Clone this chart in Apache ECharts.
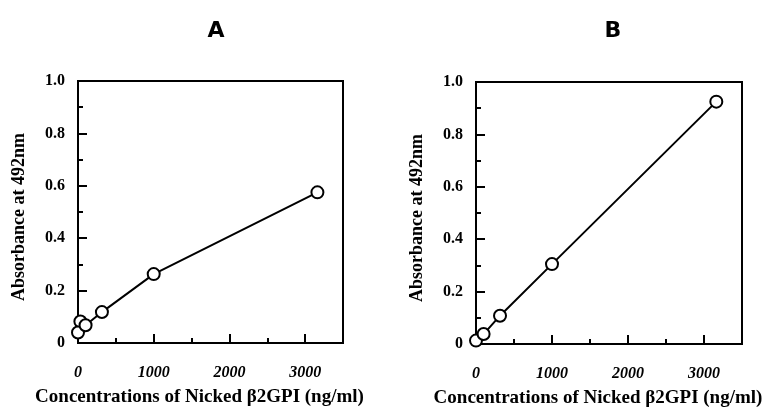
<!DOCTYPE html>
<html>
<head>
<meta charset="utf-8">
<script src="https://cdn.jsdelivr.net/npm/echarts@6/dist/echarts.min.js"></script>
<style>html,body{margin:0;padding:0;background:#fff;}#c{width:763px;height:409px;}</style>
</head>
<body>
<div id="c"></div>
<script>
// ---- data ----
const panelTitles = ['A', 'B'];
const concA = [0, 31.6, 100, 316, 1000, 3162];
const absA  = [0.04, 0.082, 0.068, 0.118, 0.263, 0.575];
const concB = [0, 100, 316, 1000, 3162];
const absB  = [0.013, 0.038, 0.108, 0.305, 0.925];
const xTickLabels = ['0', '1000', '2000', '3000'];
const yTickLabels = ['0', '0.2', '0.4', '0.6', '0.8', '1.0'];
const xName = 'Concentrations of Nicked \u03b22GPI (ng/ml)';
const yName = 'Absorbance at 492nm';

const chart = echarts.init(document.getElementById('c'));
const serif = 'Liberation Serif';
const grids = [
  {left: 78, top: 81, width: 265, height: 262},
  {left: 476, top: 82, width: 266, height: 262}
];
const xLabelSet = xTickLabels.map(Number);
const yLabelSet = yTickLabels.map(Number);

const xAxes = [], yAxes = [], series = [], titles = [];
grids.forEach((g, i) => {
  // minor ticks axis (with labels)
  xAxes.push({
    type: 'value', gridIndex: i, min: 0, max: 3500, interval: 500, position: 'bottom',
    axisLine: {show: true, lineStyle: {color: '#000', width: 2}},
    axisTick: {show: true, inside: true, length: 5, lineStyle: {color: '#000', width: 2}},
    splitLine: {show: false},
    axisLabel: {
      margin: 22, color: '#000', fontFamily: serif, fontWeight: 'bold', fontStyle: 'italic', fontSize: 16,
      formatter: v => { const k = xLabelSet.indexOf(v); return k >= 0 ? xTickLabels[k] : ''; }
    },
    name: xName, nameLocation: 'middle', nameGap: 45,
    nameTextStyle: {color: '#000', fontFamily: serif, fontWeight: 'bold', fontSize: 19, padding: [0, 22, 0, 0]}
  });
  // major ticks axis
  xAxes.push({
    type: 'value', gridIndex: i, min: 0, max: 3500, interval: 1000, position: 'bottom',
    axisLine: {show: false},
    axisTick: {show: true, inside: true, length: 9, lineStyle: {color: '#000', width: 2}},
    splitLine: {show: false}, axisLabel: {show: false}
  });
  yAxes.push({
    type: 'value', gridIndex: i, min: 0, max: 1, interval: 0.1, position: 'left',
    axisLine: {show: true, lineStyle: {color: '#000', width: 2}},
    axisTick: {show: true, inside: true, length: 5, lineStyle: {color: '#000', width: 2}},
    splitLine: {show: false},
    axisLabel: {
      margin: 13, color: '#000', fontFamily: serif, fontWeight: 'bold', fontSize: 16,
      formatter: v => { const k = yLabelSet.findIndex(t => Math.abs(t - v) < 1e-6); return k >= 0 ? yTickLabels[k] : ''; }
    },
    name: yName, nameLocation: 'middle', nameGap: 50,
    nameTextStyle: {color: '#000', fontFamily: serif, fontWeight: 'bold', fontSize: 18, padding: [0, 10, 0, 0]}
  });
  yAxes.push({
    type: 'value', gridIndex: i, min: 0, max: 1, interval: 0.2, position: 'left',
    axisLine: {show: false},
    axisTick: {show: true, inside: true, length: 9, lineStyle: {color: '#000', width: 2}},
    splitLine: {show: false}, axisLabel: {show: false}
  });
  titles.push({
    text: panelTitles[i], left: [211, 608][i], top: 15, textAlign: 'center',
    textStyle: {fontFamily: 'DejaVu Sans', fontWeight: 'bold', fontSize: 22, color: '#000'}
  });
});
const datasets = [[concA, absA], [concB, absB]];
datasets.forEach((d, i) => {
  const pts = d[0].map((x, k) => [x, d[1][k]]);
  // draw the 31.6 marker first so its neighbours sit on top of it
  const markerPts = pts.slice().sort((a, b) => (b[0] === 31.6) - (a[0] === 31.6));
  series.push({
    type: 'line', xAxisIndex: i * 2, yAxisIndex: i * 2,
    data: pts, symbol: 'none', z: 2,
    lineStyle: {color: '#000', width: 2},
    animation: false, silent: true
  });
  series.push({
    type: 'scatter', xAxisIndex: i * 2, yAxisIndex: i * 2,
    data: markerPts, symbol: 'circle', symbolSize: 12, z: 3,
    itemStyle: {color: '#fff', borderColor: '#000', borderWidth: 2, opacity: 1},
    animation: false, silent: true
  });
});

chart.setOption({
  backgroundColor: '#fff',
  animation: false,
  title: titles,
  grid: grids.map(g => Object.assign({show: true, borderColor: '#000', borderWidth: 2, backgroundColor: 'transparent', containLabel: false, outerBoundsMode: 'none'}, g)),
  xAxis: xAxes, yAxis: yAxes, series: series
});
</script>
</body>
</html>
